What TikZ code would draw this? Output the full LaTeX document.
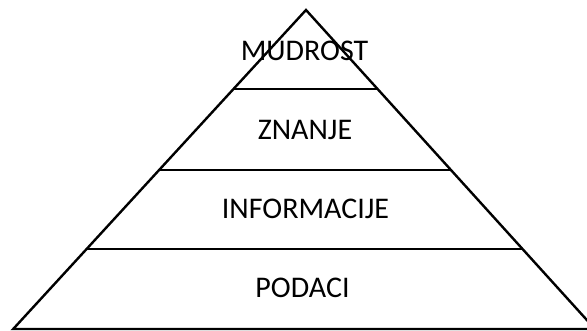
\documentclass[tikz,border=0pt]{standalone}
\usepackage{fontspec}
\setmainfont{Carlito}
\usetikzlibrary{calc}
\begin{document}
\begin{tikzpicture}[x=1pt,y=-1pt,
  edge/.style={line width=2.4pt,line join=miter},
  lbl/.style={anchor=base,inner sep=0pt,font=\fontsize{30}{31}\selectfont}]
\useasboundingbox (0,0) rectangle (587,331);
\clip (0,0) rectangle (587,331);
\coordinate (apex) at (306,10);
\coordinate (bl) at (13.2,329);
\coordinate (br) at (595,329);
\draw[edge] (bl) -- (apex) -- (br) -- cycle;
\foreach \t/\n in {0.2476/a,0.5016/b,0.7492/c}{
  \coordinate (l\n) at ($(apex)!\t!(bl)$);
  \coordinate (r\n) at ($(apex)!\t!(br)$);
  \draw[edge] (l\n) -- (r\n);
}
\node[lbl] (mud) at (304.5,61) {MUDROST};
\node[lbl] (zna) at (305,140) {ZNANJE};
\node[lbl] (inf) at (305.5,219) {INFORMACIJE};
\node[lbl] (pod) at (302.5,298) {PODACI};
\end{tikzpicture}
\end{document}
